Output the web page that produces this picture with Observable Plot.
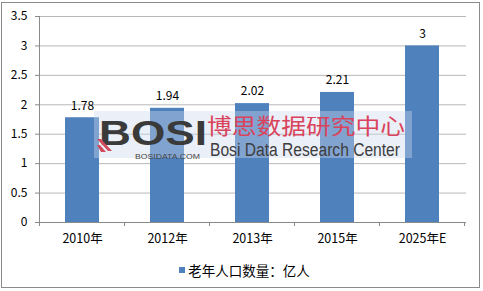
<!DOCTYPE html>
<html><head><meta charset="utf-8">
<script src="https://cdn.jsdelivr.net/npm/d3@7"></script>
<script src="https://cdn.jsdelivr.net/npm/@observablehq/plot@0.6"></script>
<style>
html,body{margin:0;padding:0;background:#fff;}
#wrap{position:relative;width:483px;height:291px;overflow:hidden;background:#fff;font-family:"Noto Sans CJK SC","Liberation Sans",sans-serif;}
#border{position:absolute;left:1px;top:2px;width:479px;height:286px;border:1px solid #8a8a8a;box-sizing:border-box;}
#legend{position:absolute;left:0;top:256px;width:483px;height:28px;display:flex;justify-content:center;align-items:center;font-size:13.5px;color:#000;padding-left:6px;box-sizing:border-box;}
#legend .sw{width:6px;height:6px;background:#4F81BD;margin-right:3px;}
</style></head>
<body><div id="wrap"><div id="chart"></div><div id="legend"></div><div id="border"></div></div>
<script>
const categories = ["2010年","2012年","2013年","2015年","2025年E"];
const values = [1.78, 1.94, 2.02, 2.21, 3];
const yTicks = [0, 0.5, 1, 1.5, 2, 2.5, 3, 3.5];
const seriesName = "老年人口数量：亿人";
const barColor = "#4F81BD";

const data = categories.map((c, i) => ({cat: c, value: values[i]}));

const W = 483, H = 256;
const mL = 39, mR = 17, mT = 16, mB = 34;

const plot = Plot.plot({
  width: W, height: H,
  marginLeft: mL, marginRight: mR, marginTop: mT, marginBottom: mB,
  style: {fontFamily: '"Noto Sans CJK SC","Liberation Sans",sans-serif', fontSize: "12px", color: "#000", background: "transparent", overflow: "visible"},
  x: {domain: categories, paddingInner: 0.6, paddingOuter: 0.3, label: null},
  y: {domain: [0, 3.5], label: null},
  marks: [
    Plot.ruleY(yTicks.filter(d => d > 0), {stroke: "#b8b8b8", strokeWidth: 1}),
    Plot.barY(data, {x: "cat", y: "value", fill: barColor}),
    Plot.text(data, {x: "cat", y: "value", text: d => String(d.value), dy: -12, fill: "#000", fontSize: 12}),
    Plot.ruleY([0], {stroke: "#8a8a8a"}),
    Plot.axisY({ticks: yTicks, tickSize: 4, tickPadding: 8, tickFormat: d => String(d), stroke: "#8a8a8a", fontSize: 12, label: null}),
    Plot.axisX({tickSize: 0, tickPadding: 12, fontSize: 12.5, label: null})
  ]
});
document.getElementById("chart").appendChild(plot);

// axis decorations: y axis line and x band-boundary ticks, using Plot's scales
const svg = d3.select(plot);
const xs = plot.scale("x");
const ys = plot.scale("y");
const y0 = ys.apply(0), yTop = ys.apply(3.5);
svg.append("line").attr("x1", mL + 0.5).attr("x2", mL + 0.5).attr("y1", yTop).attr("y2", y0)
  .attr("stroke", "#8a8a8a");
const step = xs.step;
const bounds = categories.map(c => xs.apply(c) + xs.bandwidth / 2 - step / 2);
bounds.push(bounds[bounds.length - 1] + step);
bounds.forEach(b => {
  svg.append("line").attr("x1", b).attr("x2", b).attr("y1", y0).attr("y2", y0 + 4).attr("stroke", "#8a8a8a");
});

// watermark overlay
const wm = svg.append("g").attr("pointer-events", "none").attr("text-anchor", "start");
wm.append("rect").attr("x", 94).attr("y", 111).attr("width", 318).attr("height", 47)
  .attr("fill", "rgb(205,214,236)").attr("fill-opacity", 0.4);
wm.append("text").text("BOSI").attr("x", 99).attr("y", 145).attr("text-anchor", "start")
  .attr("font-family", '"Liberation Sans","DejaVu Sans",sans-serif').attr("font-weight", "bold")
  .attr("font-size", 35).attr("textLength", 108).attr("lengthAdjust", "spacingAndGlyphs").attr("fill", "#3a3a3a");
wm.append("path").attr("d", "M97,139 L101,139 L112,151 L108,151 Z M97,145 L100,145 L106,152 L101,152 Z")
  .attr("fill", "#d04a5e");
wm.append("text").text("BOSIDATA.COM").attr("x", 135).attr("y", 158.5).attr("text-anchor", "start")
  .attr("font-family", '"Liberation Sans Narrow","Liberation Sans",sans-serif').attr("font-size", 7)
  .attr("textLength", 65).attr("lengthAdjust", "spacingAndGlyphs").attr("fill", "#444");
wm.append("text").text("博思数据研究中心").attr("x", 207).attr("y", 134).attr("text-anchor", "start")
  .attr("font-family", '"Noto Sans CJK SC",sans-serif').attr("font-size", 22)
  .attr("textLength", 198).attr("lengthAdjust", "spacingAndGlyphs").attr("fill", "#d9435c");
wm.append("text").text("Bosi Data Research Center").attr("x", 210).attr("y", 156).attr("text-anchor", "start")
  .attr("font-family", '"Liberation Sans Narrow","Liberation Sans",sans-serif').attr("font-size", 18)
  .attr("textLength", 190).attr("lengthAdjust", "spacingAndGlyphs").attr("fill", "#3d3d3d");

// legend
const lg = document.getElementById("legend");
lg.innerHTML = '<span class="sw"></span><span></span>';
lg.lastChild.textContent = seriesName;
</script>
</body></html>
